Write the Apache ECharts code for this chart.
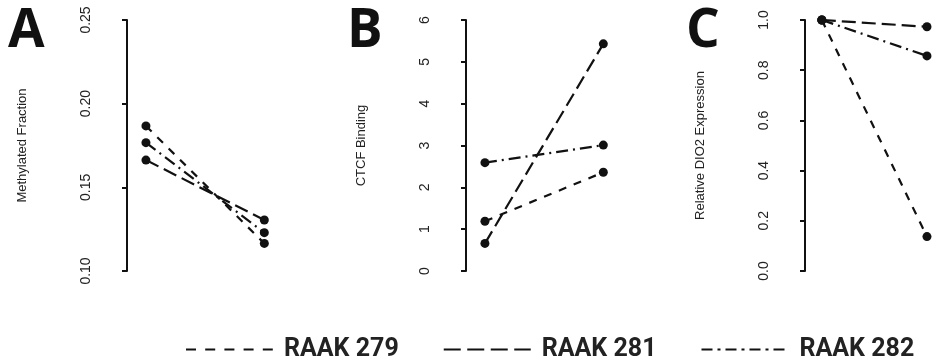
<!DOCTYPE html>
<html>
<head>
<meta charset="utf-8">
<script src="https://cdn.jsdelivr.net/npm/echarts@6/dist/echarts.min.js"></script>
<style>
  html, body { margin: 0; padding: 0; background: #fff; }
</style>
</head>
<body>
<div id="main" style="width:948px; height:362px;"></div>
<script>
// two time points per panel (x positions)
var timepoints = [1, 2];
var seriesNames = ['RAAK 279', 'RAAK 281', 'RAAK 282'];

// A: methylated fraction
var methyl279 = [0.1867, 0.1165];
var methyl281 = [0.1663, 0.1305];
var methyl282 = [0.1767, 0.1229];
// B: CTCF binding
var ctcf279 = [1.19, 2.36];
var ctcf281 = [0.66, 5.43];
var ctcf282 = [2.59, 3.01];
// C: relative DIO2 expression
var dio279 = [1.0, 0.137];
var dio281 = [1.0, 0.973];
var dio282 = [1.0, 0.857];

var panelLetters = ['A', 'B', 'C'];
var axisNames = ['Methylated Fraction', 'CTCF Binding', 'Relative DIO2 Expression'];

var dashes = {
  'RAAK 279': [8, 8],
  'RAAK 281': [14, 6],
  'RAAK 282': [12, 5, 2, 5]
};
var legendDashes = {
  'RAAK 279': [10, 9.2],
  'RAAK 281': [17, 6.5],
  'RAAK 282': [11, 5, 3, 5]
};

var panelLeft = [127, 466, 805];

function pts(vals) {
  return timepoints.map(function (x, i) { return [x, vals[i]]; });
}

function makeYAxis(idx, name, min, max, interval, digits) {
  return {
    gridIndex: idx,
    type: 'value',
    name: name,
    nameLocation: 'middle',
    nameGap: 98,
    nameRotate: 90,
    nameTextStyle: { fontFamily: 'Liberation Sans', fontSize: 13, color: '#222' },
    min: min, max: max, interval: interval,
    axisLine: { show: true, lineStyle: { color: '#111', width: 2 } },
    axisTick: { show: true, length: 5, lineStyle: { color: '#111', width: 2 } },
    axisLabel: {
      rotate: 90, margin: 34, fontSize: 14, fontFamily: 'Liberation Sans', color: '#222',
      formatter: function (v) { return v.toFixed(digits); }
    },
    splitLine: { show: false }
  };
}

function makeSeries(name, idx, vals) {
  return {
    name: name,
    type: 'line',
    xAxisIndex: idx,
    yAxisIndex: idx,
    data: pts(vals),
    symbol: 'circle',
    symbolSize: 9,
    itemStyle: { color: '#111' },
    lineStyle: { color: '#111', width: 2.2, type: dashes[name] },
    z: 3
  };
}

var chart = echarts.init(document.getElementById('main'));
chart.setOption({
  animation: false,
  backgroundColor: '#fff',
  title: panelLetters.map(function (t, i) {
    return {
      text: t, left: panelLeft[i] - 124, top: 0,
      textStyle: { fontFamily: 'Open Sans', fontWeight: 'bold', fontSize: 53, color: '#111' }
    };
  }),
  grid: panelLeft.map(function (l) {
    return { left: l, top: 20, width: 161, height: 251 };
  }),
  xAxis: panelLeft.map(function (l, i) {
    return { gridIndex: i, type: 'value', min: 0.84, max: 2.2, show: false };
  }),
  yAxis: [
    makeYAxis(0, axisNames[0], 0.10, 0.25, 0.05, 2),
    makeYAxis(1, axisNames[1], 0, 6, 1, 0),
    makeYAxis(2, axisNames[2], 0, 1, 0.2, 1)
  ],
  legend: {
    left: 180, top: 332, width: 765,
    itemWidth: 87, itemHeight: 16, itemGap: 44,
    selectedMode: false,
    itemStyle: { opacity: 0 },
    data: seriesNames.map(function (n) {
      return { name: n, lineStyle: { width: 2, type: legendDashes[n] } };
    }),
    textStyle: {
      fontFamily: 'Roboto', fontWeight: 'bold', fontSize: 25,
      color: '#222', padding: [0, 0, 0, 6]
    }
  },
  series: [
    makeSeries('RAAK 279', 0, methyl279),
    makeSeries('RAAK 281', 0, methyl281),
    makeSeries('RAAK 282', 0, methyl282),
    makeSeries('RAAK 279', 1, ctcf279),
    makeSeries('RAAK 281', 1, ctcf281),
    makeSeries('RAAK 282', 1, ctcf282),
    makeSeries('RAAK 279', 2, dio279),
    makeSeries('RAAK 281', 2, dio281),
    makeSeries('RAAK 282', 2, dio282)
  ]
});
</script>
</body>
</html>
